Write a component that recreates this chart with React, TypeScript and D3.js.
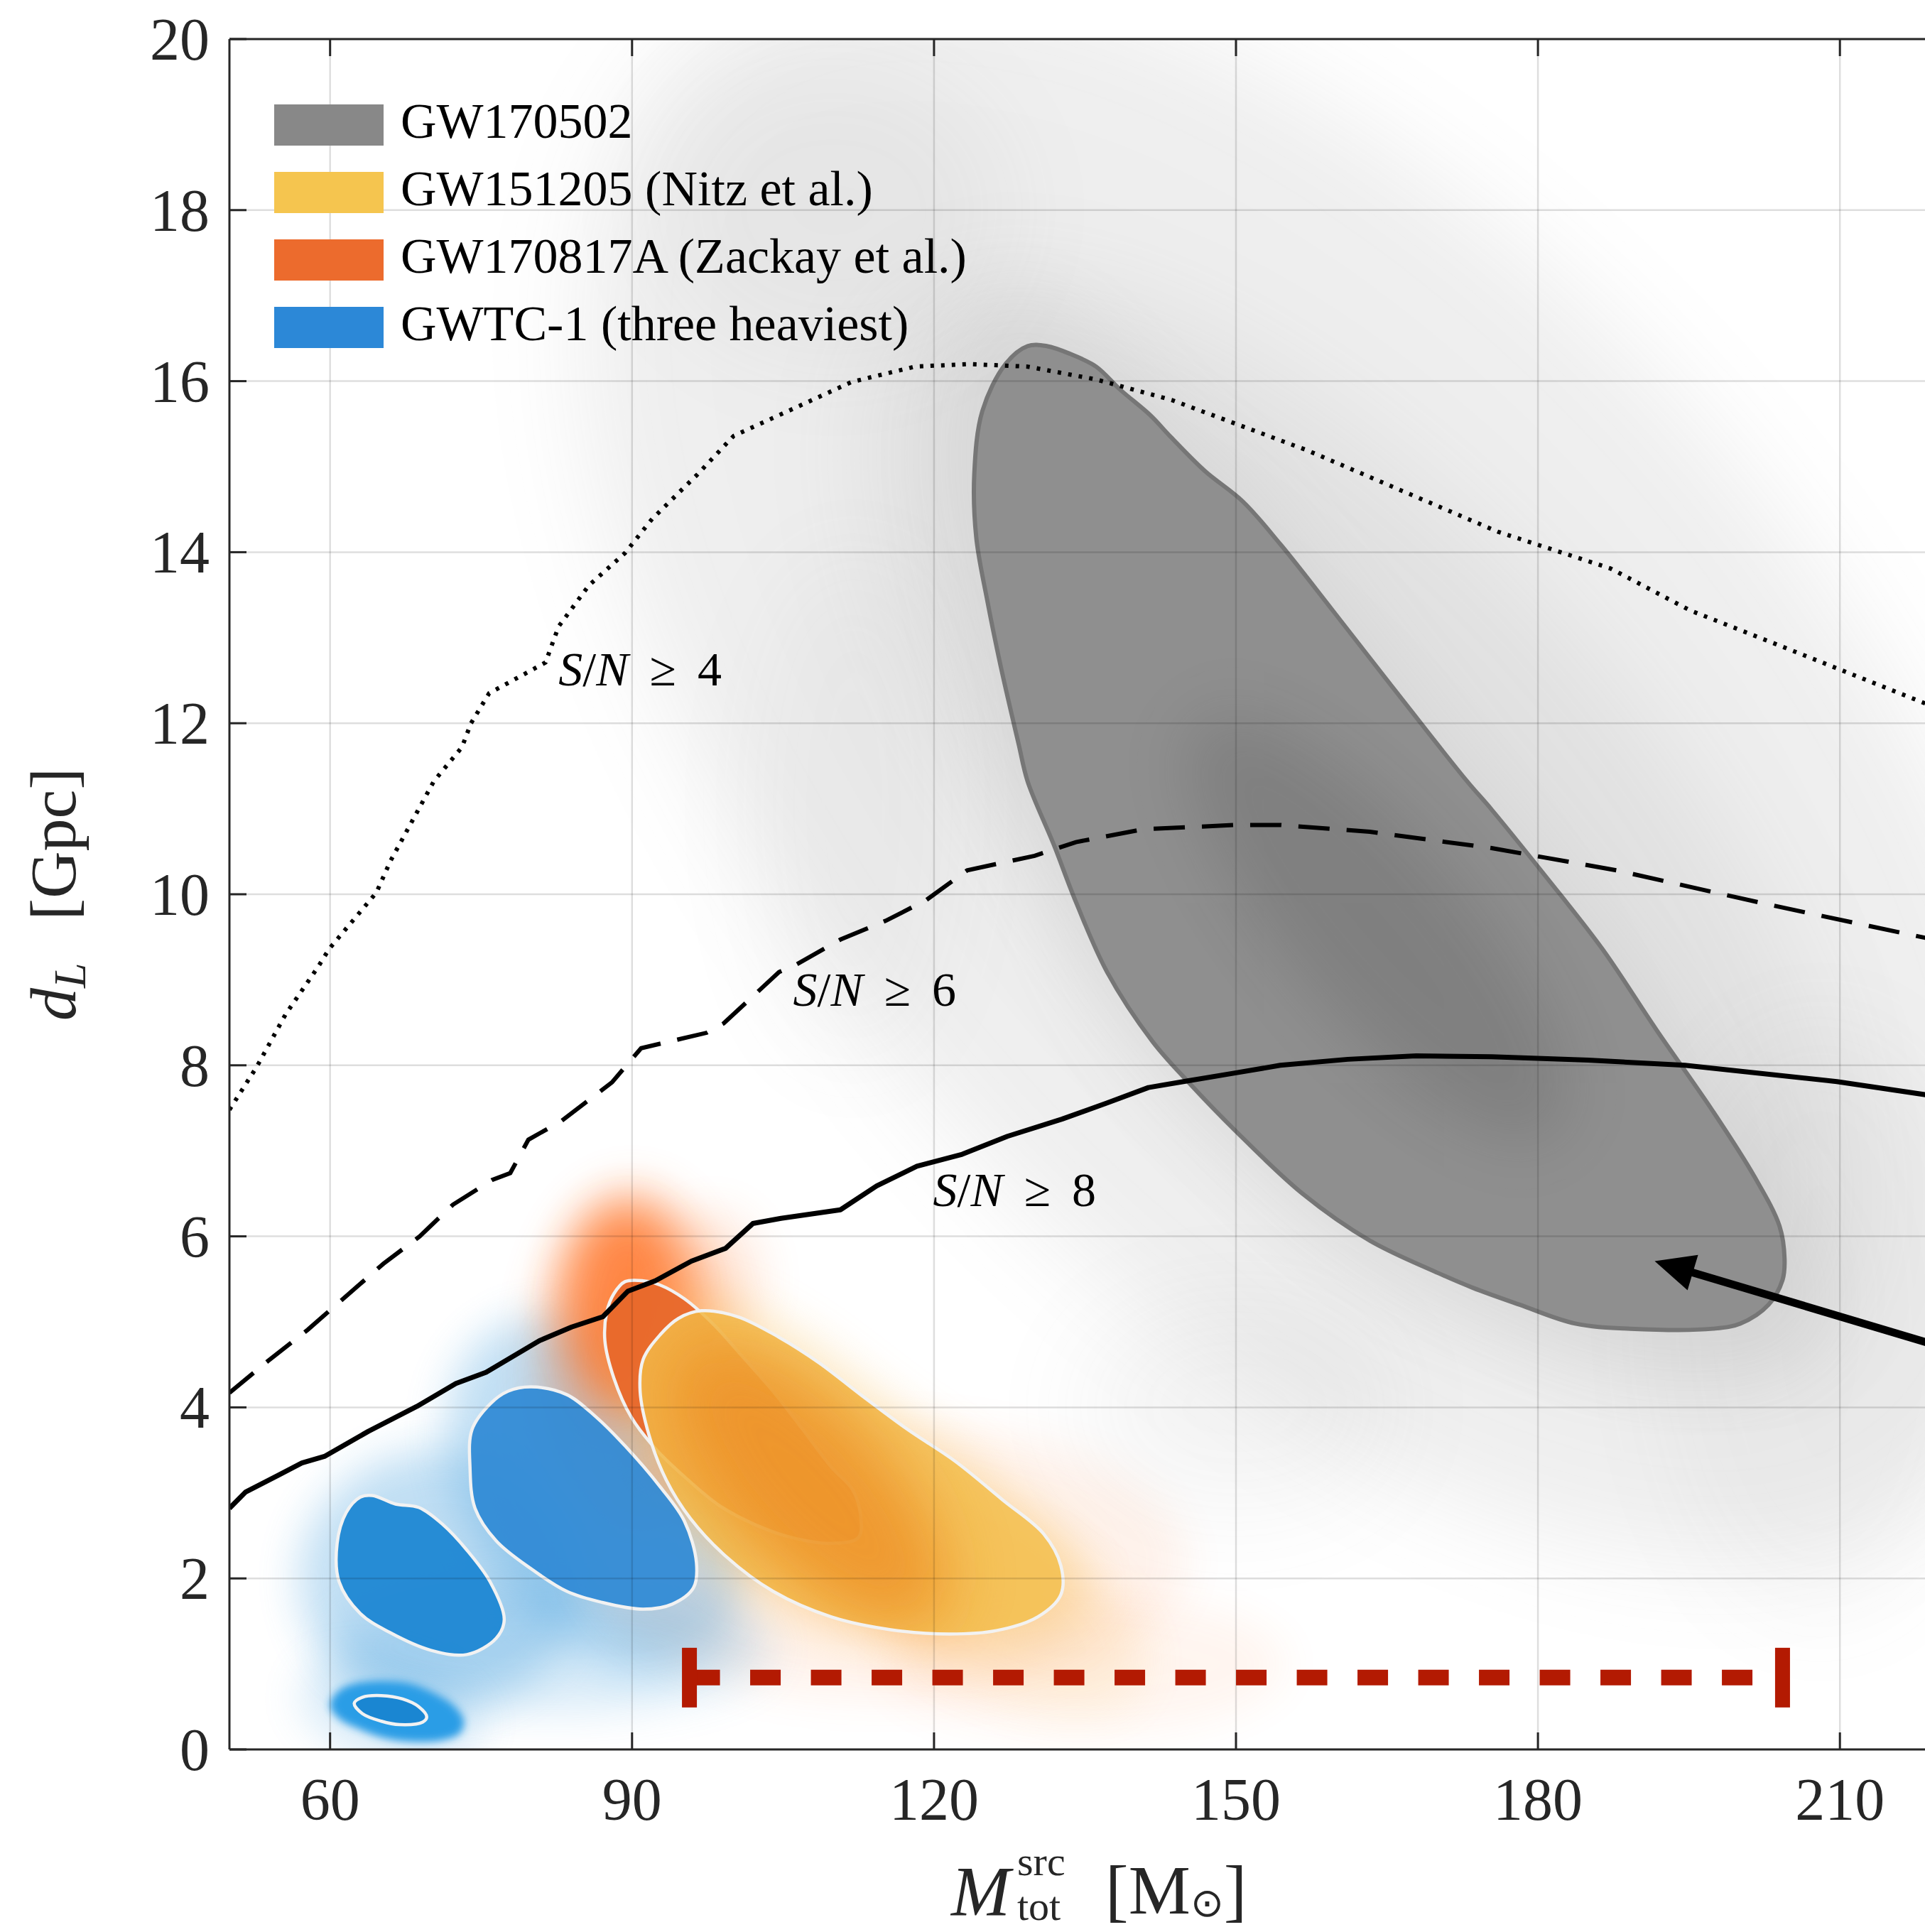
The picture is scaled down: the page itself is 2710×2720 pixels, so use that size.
import React from "react";
import * as d3 from "d3";

// ---------------- data ----------------
const X_DOMAIN: [number, number] = [50, 220];
const Y_DOMAIN: [number, number] = [0, 20];
const X_TICKS = [60, 90, 120, 150, 180, 210];
const Y_TICKS = [0, 2, 4, 6, 8, 10, 12, 14, 16, 18, 20];

// detection horizons  [M_tot (Msun), d_L (Gpc)]
const SNR8 = [[50,2.82],[51.6,3.01],[54.9,3.21],[57.2,3.35],[59.5,3.43],[63.8,3.72],[68.6,4.01],[72.5,4.28],[75.5,4.41],[80.8,4.78],[84.0,4.94],[87.1,5.06],[89.6,5.36],[92.3,5.48],[95.9,5.71],[99.3,5.86],[102.0,6.15],[104.8,6.21],[110.7,6.31],[114.3,6.59],[118.3,6.82],[122.8,6.96],[127.3,7.17],[132.7,7.37],[137.2,7.56],[141.3,7.74],[145.3,7.82],[149.9,7.91],[154.4,8.00],[161.1,8.07],[167.9,8.11],[175.4,8.10],[185,8.06],[194.6,8.00],[209.7,7.81],[220,7.63]];
const SNR6 = [[50,4.17],[53.8,4.54],[57.8,4.91],[61.4,5.28],[65.3,5.68],[68.9,6.00],[72.2,6.37],[76.1,6.66],[77.9,6.74],[79.7,7.13],[83.0,7.35],[88.0,7.80],[90.9,8.20],[97.4,8.38],[99.1,8.49],[104.6,9.09],[106.2,9.17],[110.7,9.47],[115.2,9.69],[119.2,9.93],[123.3,10.28],[130.0,10.45],[134.1,10.61],[140.8,10.76],[149.9,10.81],[154.4,10.81],[163.3,10.73],[175.4,10.54],[187.8,10.28],[202.9,9.88],[218.5,9.49],[220,9.45]];
const SNR4 = [[50,7.48],[52.7,7.98],[55.6,8.60],[58.8,9.15],[59.9,9.36],[64.6,10.02],[66.0,10.39],[70.3,11.32],[73.1,11.72],[74.0,12.00],[75.8,12.35],[81.4,12.71],[82.7,13.13],[85.7,13.61],[89.3,13.99],[92.0,14.39],[96.5,14.91],[100.1,15.36],[105.5,15.65],[111.8,15.99],[118.1,16.17],[123.5,16.20],[129.3,16.17],[136.1,16.02],[143.6,15.78],[157.1,15.19],[176.0,14.24],[187.2,13.81],[195.1,13.32],[202.9,12.96],[218.5,12.23],[220,12.16]];
const SNR_LABELS = [
  { value: "4", at: [82.7, 12.44] },
  { value: "6", at: [106.0, 8.70] },
  { value: "8", at: [119.9, 6.35] },
];

// 90% credible regions
const GW170502 = [[129.3,16.41],[131.2,16.41],[133.5,16.32],[136.1,16.17],[138.5,15.90],[141.5,15.60],[143.5,15.35],[146.9,14.95],[150.7,14.59],[154.5,14.08],[159.6,13.32],[165.9,12.37],[172.9,11.33],[175.4,10.99],[180.9,10.19],[186.4,9.36],[191.8,8.41],[197.4,7.46],[201.5,6.70],[204.0,6.12],[204.5,5.74],[204.3,5.49],[202.9,5.20],[200.1,4.98],[197.4,4.92],[189.2,4.92],[183.7,4.98],[178.2,5.20],[173.5,5.40],[170.1,5.57],[163.3,5.95],[156.6,6.50],[149.9,7.24],[145.3,7.80],[141.7,8.28],[137.2,9.09],[134.1,9.91],[131.9,10.58],[129.3,11.32],[128.4,11.76],[126.6,12.68],[125.3,13.43],[124.2,14.17],[124.0,14.91],[124.8,15.65],[127.1,16.20]];
const GW170817A = [[89.3,5.47],[91.1,5.48],[92.8,5.43],[95.2,5.27],[98.1,4.97],[101.0,4.59],[104.0,4.19],[106.9,3.75],[109.8,3.30],[111.9,3.04],[112.7,2.74],[112.5,2.48],[109.8,2.41],[105.8,2.48],[102.2,2.63],[98.7,2.85],[95.2,3.19],[92.3,3.52],[89.9,3.89],[88.2,4.34],[87.3,4.78],[87.5,5.12],[88.2,5.33]];
const GW151205 = [[96.9,5.13],[100.5,5.06],[104.6,4.82],[108.6,4.52],[112.7,4.15],[117.4,3.74],[122.1,3.37],[126.8,2.92],[130.9,2.52],[132.6,2.15],[132.6,1.81],[130.3,1.55],[126.2,1.39],[121.5,1.35],[115.7,1.40],[109.8,1.55],[104.0,1.85],[99.3,2.26],[95.8,2.70],[93.4,3.15],[91.7,3.67],[90.8,4.19],[91.1,4.56],[92.8,4.85],[94.6,5.04]];
const GWTC1_A = [[64.2,2.97],[66.5,2.87],[68.8,2.83],[71.2,2.63],[73.6,2.33],[75.9,1.96],[77.3,1.52],[76.5,1.30],[73.6,1.11],[70.0,1.16],[65.9,1.37],[63.0,1.59],[60.9,1.96],[60.7,2.41],[61.6,2.77],[63.0,2.95]];
const GWTC1_B = [[80.0,4.24],[83.5,4.15],[86.4,3.89],[89.3,3.55],[92.8,3.07],[95.2,2.67],[96.4,2.18],[96.1,1.89],[94.0,1.70],[91.1,1.64],[87.0,1.72],[83.5,1.85],[80.0,2.11],[76.5,2.44],[74.4,2.82],[73.9,3.30],[74.1,3.74],[75.9,4.04],[77.7,4.19]];
const GWTC1_C_CORE = [[60.0,0.52],[60.9,0.69],[62.5,0.77],[65.1,0.80],[67.9,0.77],[70.3,0.66],[72.4,0.50],[73.3,0.33],[72.9,0.19],[71.2,0.11],[68.3,0.09],[65.5,0.13],[62.7,0.25],[60.9,0.36]];
const GWTC1_C = [[62.4,0.54],[63.2,0.61],[65.1,0.63],[67.2,0.59],[68.8,0.50],[69.6,0.38],[69.2,0.32],[66.9,0.29],[65.1,0.33],[63.2,0.42]];

// sample clouds (density read as blurred ellipses): [M, d, semi-axis M, semi-axis d, rotation deg, opacity]
const GRAY_CLOUD = [[158,11.5,95,6.0,49,0.12],[162,10.8,68,3.4,49,0.11],[110,18,18,1.8,0,0.07],[208,5,16,3.5,0,0.05],[150,4,16,1.3,0,0.07],[112,11,10,3,0,0.05]];
const GRAY_CORE = [[164,9.6,27,1.05,49,0.18]];
const BLUE_CLOUD = [[71,2.0,14,1.5,0,0.32],[86.5,3.0,19,1.5,57,0.32],[82,1.2,22,0.75,0,0.2],[66,0.45,9,0.55,15,0.22],[88,4.3,7,0.9,0,0.12]];
const ORANGE_CLOUD = [[89.5,5.15,6.2,1.2,0,0.85],[90,4.6,9.5,2.0,0,0.3],[108.5,2.65,17,0.6,33,0.45],[115,2.2,30,1.6,0,0.09],[135,1.0,20,0.8,0,0.07],[98,5.5,5,0.8,0,0.15]];
const YELLOW_CORE = [[107.5,3.1,18,0.95,47,0.7]];
const YELLOW_CLOUD = [[125,1.8,18,1.0,30,0.12]];

const LEGEND = [
  { label: "GW170502", color: "#888888" },
  { label: "GW151205 (Nitz et al.)", color: "#F5C54F" },
  { label: "GW170817A (Zackay et al.)", color: "#EC6B2D" },
  { label: "GWTC-1 (three heaviest)", color: "#2C88D7" },
];

const ARROW_FROM = [228, 4.43];
const ARROW_TO = [191.6, 5.71];
const RANGE_BAR = { lo: 95.7, hi: 204.3, d: 0.84 };

// ---------------- component ----------------
export default function App() {
  const W = 2710, H = 2720;
  const L = 323, T = 55, B = 2463, KX = 14.17;
  const x = d3.scaleLinear().domain(X_DOMAIN).range([L, L + (X_DOMAIN[1] - X_DOMAIN[0]) * KX]);
  const y = d3.scaleLinear().domain(Y_DOMAIN).range([B, T]);
  const R = x(X_DOMAIN[1]);
  const kx = x(1) - x(0);
  const ky = y(0) - y(1);
  const line = d3.line<number[]>().x((p) => x(p[0])).y((p) => y(p[1]));
  const closed = d3.line<number[]>().x((p) => x(p[0])).y((p) => y(p[1])).curve(d3.curveCatmullRomClosed.alpha(0.5));
  const centroid = (pts: number[][]) => [d3.mean(pts, (p) => x(p[0]))!, d3.mean(pts, (p) => y(p[1]))!];
  const scaleAbout = (pts: number[][], s: number) => {
    const [cx, cy] = centroid(pts);
    return `translate(${cx} ${cy}) scale(${s}) translate(${-cx} ${-cy})`;
  };
  const ell = (e: number[], color: string, key: string, filter: string) => {
    const [m, d, a, b, rot, op] = e;
    const cx = x(m), cy = y(d);
    return <ellipse key={key} cx={cx} cy={cy} rx={a * kx} ry={b * ky} transform={`rotate(${rot} ${cx} ${cy})`} fill={color} opacity={op} filter={filter} />;
  };

  // arrow geometry
  const ax1 = x(ARROW_FROM[0]), ay1 = y(ARROW_FROM[1]);
  const ax2 = x(ARROW_TO[0]), ay2 = y(ARROW_TO[1]);
  const len = Math.hypot(ax1 - ax2, ay1 - ay2);
  const ux = (ax1 - ax2) / len, uy = (ay1 - ay2) / len;
  const headL = 56, headW = 26;
  const bx = ax2 + ux * headL, by = ay2 + uy * headL;
  const head = `${ax2},${ay2} ${bx - uy * headW},${by + ux * headW} ${bx + uy * headW},${by - ux * headW}`;

  const serif = "'Liberation Serif', 'Times New Roman', serif";
  const by0 = y(RANGE_BAR.d);

  return (
    <div style={{ position: "absolute", left: 0, top: 0, width: W, height: H, background: "#fff" }}>
      <svg width={W} height={H} viewBox={`0 0 ${W} ${H}`} style={{ display: "block" }}>
        <defs>
          <clipPath id="plot"><rect x={L} y={T} width={R - L} height={B - T} /></clipPath>
          <clipPath id="blobclip"><path d={closed(GW170502)!} /></clipPath>
          <clipPath id="yelclip"><path d={closed(GW151205)!} /></clipPath>
          {[6, 20, 30, 45, 70].map((s) => (
            <filter key={s} id={`b${s}`} x="-1" y="-1" width="3" height="3">
              <feGaussianBlur stdDeviation={s} />
            </filter>
          ))}
        </defs>
        <rect x={0} y={0} width={W} height={H} fill="#fff" />

        <g clipPath="url(#plot)">
          {/* gray sample cloud */}
          {GRAY_CLOUD.map((e, i) => ell(e, "#7a7a7a", `g${i}`, "url(#b70)"))}
          <path d={closed(GW170502)!} transform={scaleAbout(GW170502, 1.1)} fill="#8a8a8a" opacity={0.1} filter="url(#b45)" />
          {/* coloured sample clouds */}
          {BLUE_CLOUD.map((e, i) => ell(e, "#3e9bdc", `bc${i}`, "url(#b30)"))}
          {ORANGE_CLOUD.map((e, i) => ell(e, "#ff7a33", `oc${i}`, "url(#b30)"))}
          {YELLOW_CLOUD.map((e, i) => ell(e, "#f6b640", `yc${i}`, "url(#b30)"))}
          <path d={closed(GW151205)!} transform={scaleAbout(GW151205, 1.1)} fill="#f7b84a" opacity={0.35} filter="url(#b30)" />

          {/* GW170502 */}
          <path d={closed(GW170502)!} fill="#8f8f8f" />
          <g clipPath="url(#blobclip)">
            {GRAY_CORE.map((e, i) => ell(e, "#3c3c3c", `gk${i}`, "url(#b45)"))}
          </g>
          <path d={closed(GW170502)!} fill="none" stroke="#767676" strokeWidth={6} />

          {/* GWTC-1 */}
          <path d={closed(GWTC1_C_CORE)!} fill="#2a9de6" filter="url(#b6)" />
          <path d={closed(GWTC1_C)!} fill="#1a86d2" stroke="#f2f2f2" strokeWidth={4.5} />
          <path d={closed(GWTC1_A)!} fill="#1e87d3" opacity={0.95} />
          <path d={closed(GWTC1_A)!} fill="none" stroke="#f2f2f2" strokeWidth={4.5} />
          <path d={closed(GWTC1_B)!} fill="#2f8ad5" opacity={0.93} />
          <path d={closed(GWTC1_B)!} fill="none" stroke="#f2f2f2" strokeWidth={4.5} />

          {/* GW170817A */}
          <path d={closed(GW170817A)!} fill="#e8682b" opacity={0.95} />
          <path d={closed(GW170817A)!} fill="none" stroke="#f2f2f2" strokeWidth={4.5} />

          {/* GW151205 */}
          <path d={closed(GW151205)!} fill="#f3bf4c" opacity={0.84} />
          <g clipPath="url(#yelclip)">
            {YELLOW_CORE.map((e, i) => ell(e, "#ec8a22", `yk${i}`, "url(#b45)"))}
          </g>
          <path d={closed(GW151205)!} fill="none" stroke="#f2f2f2" strokeWidth={4.5} />

          {/* grid on top */}
          {X_TICKS.map((t) => <line key={`gx${t}`} x1={x(t)} x2={x(t)} y1={T} y2={B} stroke="#000" strokeOpacity={0.13} strokeWidth={2.5} />)}
          {Y_TICKS.map((t) => <line key={`gy${t}`} x1={L} x2={R} y1={y(t)} y2={y(t)} stroke="#000" strokeOpacity={0.13} strokeWidth={2.5} />)}

          {/* SNR horizons */}
          <path d={line(SNR4)!} fill="none" stroke="#000" strokeWidth={6} strokeDasharray="5 10" />
          <path d={line(SNR6)!} fill="none" stroke="#000" strokeWidth={6} strokeDasharray="44 24" />
          <path d={line(SNR8)!} fill="none" stroke="#000" strokeWidth={7} strokeLinejoin="round" />
        </g>

        {SNR_LABELS.map((s) => (
          <text key={s.value} x={x(s.at[0])} y={y(s.at[1])} fontFamily={serif} fontSize={68} fill="#000">
            <tspan fontStyle="italic">S</tspan>
            <tspan>/</tspan>
            <tspan fontStyle="italic">N</tspan>
            <tspan dx={30}>≥</tspan>
            <tspan dx={30}>{s.value}</tspan>
          </text>
        ))}

        {/* range bar */}
        <line x1={x(RANGE_BAR.lo)} x2={x(RANGE_BAR.hi)} y1={by0} y2={by0} stroke="#b31a02" strokeWidth={22} strokeDasharray="43 42.5" />
        <rect x={x(RANGE_BAR.lo) - 10.5} y={by0 - 42} width={21} height={84} fill="#b31a02" />
        <rect x={x(RANGE_BAR.hi) - 10.5} y={by0 - 42} width={21} height={84} fill="#b31a02" />

        {/* arrow */}
        <line x1={ax1} y1={ay1} x2={bx - ux * 4} y2={by - uy * 4} stroke="#000" strokeWidth={11} />
        <polygon points={head} fill="#000" />

        {/* axes */}
        <line x1={L} x2={L} y1={T} y2={B} stroke="#262626" strokeWidth={3} />
        <line x1={L} x2={R} y1={B} y2={B} stroke="#262626" strokeWidth={3} />
        <line x1={L} x2={R} y1={T} y2={T} stroke="#262626" strokeWidth={3} />
        {Y_TICKS.map((t) => <line key={`ty${t}`} x1={L} x2={L + 24} y1={y(t)} y2={y(t)} stroke="#262626" strokeWidth={3} />)}
        {X_TICKS.map((t) => (
          <g key={`tx${t}`}>
            <line x1={x(t)} x2={x(t)} y1={B} y2={B - 24} stroke="#262626" strokeWidth={3} />
            <line x1={x(t)} x2={x(t)} y1={T} y2={T + 24} stroke="#262626" strokeWidth={3} />
          </g>
        ))}
        {Y_TICKS.map((t) => (
          <text key={`ly${t}`} x={L - 28} y={y(t) + 29} textAnchor="end" fontFamily={serif} fontSize={84} fill="#262626">{t}</text>
        ))}
        {X_TICKS.map((t) => (
          <text key={`lx${t}`} x={x(t)} y={2562} textAnchor="middle" fontFamily={serif} fontSize={84} fill="#262626">{t}</text>
        ))}

        {/* axis labels */}
        <text transform={`translate(106 ${(T + B) / 2}) rotate(-90)`} textAnchor="middle" fontFamily={serif} fontSize={92} fill="#262626">
          <tspan fontStyle="italic">d</tspan>
          <tspan fontStyle="italic" fontSize={64} dy={14}>L</tspan>
          <tspan dy={-14} dx={60}>[Gpc]</tspan>
        </text>
        <text x={1339} y={2696} fontFamily={serif} fontSize={100} fontStyle="italic" fill="#262626">M</text>
        <text x={1432} y={2640} fontFamily={serif} fontSize={58} fill="#262626">src</text>
        <text x={1432} y={2703} fontFamily={serif} fontSize={58} fill="#262626">tot</text>
        <text x={1556} y={2694} fontFamily={serif} fontSize={98} fill="#262626">
          [M<tspan fontSize={56} dy={4}>⊙</tspan><tspan dy={-4}>]</tspan>
        </text>

        {/* legend */}
        {LEGEND.map((l, i) => {
          const cy = 176 + i * 95;
          return (
            <g key={l.label}>
              <rect x={386} y={cy - 29} width={154} height={58} fill={l.color} />
              <text x={564} y={cy + 18} fontFamily={serif} fontSize={70} fill="#000">{l.label}</text>
            </g>
          );
        })}
      </svg>
    </div>
  );
}
